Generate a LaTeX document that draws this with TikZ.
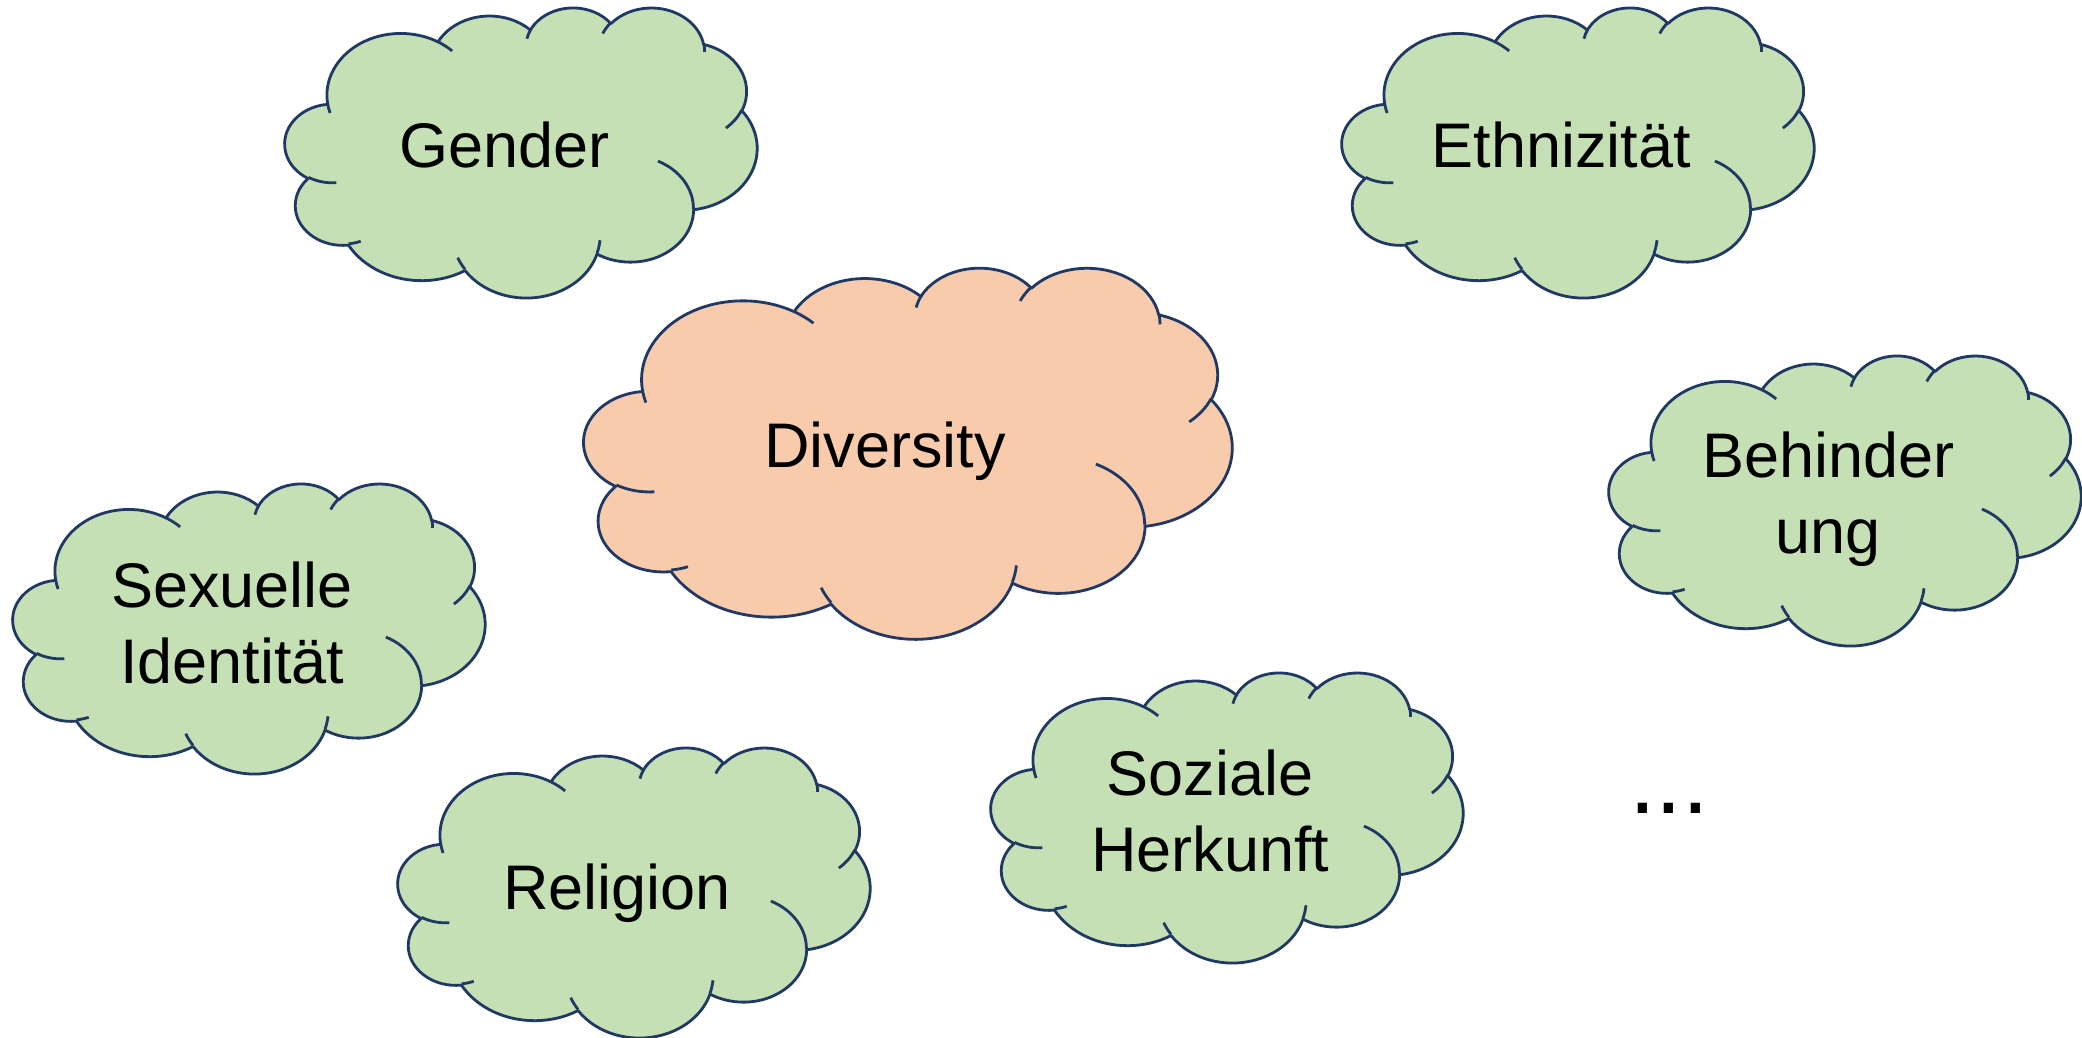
\documentclass[tikz,border=0pt]{standalone}
\usepackage{fontspec}
\setmainfont{Liberation Sans}

\definecolor{cloudgreen}{HTML}{C5E0B4}
\definecolor{cloudpeach}{HTML}{F8CBAD}
\definecolor{cloudedge}{HTML}{1F3864}

% One elliptic arc of the cloud outline, given in the 43.2 x 43.2 unit frame.
% #2,#3: radii; #4,#5: start and sweep as direction angles (y pointing down).
% The direction angles are turned into parametric ones and the frame is
% flipped so that y points up.
\newcommand\defcloudarc[5]{%
  \pgfmathsetmacro\arcS{atan2(#2*sin(#4),#3*cos(#4))}%
  \pgfmathsetmacro\arcE{atan2(#2*sin(#4+#5),#3*cos(#4+#5))}%
  \pgfmathsetmacro\arcD{mod((\arcE)-(\arcS)+720,360)}%
  \pgfmathsetmacro\arcS{0-(\arcS)}%
  \pgfmathsetmacro\arcD{0-(\arcD)}%
  \edef\arcdef{\noexpand\tikzset{#1/.style={start angle=\arcS,delta angle=\arcD,x radius=#2,y radius=#3}}}%
  \arcdef}

% outline bumps
\defcloudarc{cloud arc 1}{6.753}{9.190}{-190.4875}{123.7805}
\defcloudarc{cloud arc 2}{5.333}{7.267}{-144.1024}{89.9452}
\defcloudarc{cloud arc 3}{4.365}{5.945}{-145.8079}{99.7230}
\defcloudarc{cloud arc 4}{4.857}{6.595}{-130.9861}{117.2417}
\defcloudarc{cloud arc 5}{5.333}{7.273}{-78.7089}{109.0269}
\defcloudarc{cloud arc 6}{6.775}{9.220}{-46.2673}{130.2690}
\defcloudarc{cloud arc 7}{5.785}{7.867}{0.6250}{114.0333}
\defcloudarc{cloud arc 8}{6.752}{9.215}{22.4516}{115.1726}
\defcloudarc{cloud arc 9}{7.720}{10.543}{66.2426}{75.7110}
\defcloudarc{cloud arc 10}{4.360}{5.918}{-274.9421}{146.7356}
\defcloudarc{cloud arc 11}{4.345}{5.945}{-246.8285}{152.5189}
% short inner creases
\defcloudarc{cloud rim a}{4.345}{5.945}{86.7420}{26.4295}
\defcloudarc{cloud rim b}{4.360}{5.918}{73.6105}{11.4475}
\defcloudarc{cloud rim c}{6.752}{9.215}{137.6242}{14.0811}
\defcloudarc{cloud rim d}{6.752}{9.215}{6.4533}{15.9984}
\defcloudarc{cloud rim e}{5.785}{7.867}{-70.2924}{70.9174}
\defcloudarc{cloud rim f}{5.333}{7.273}{30.3180}{27.7515}
\defcloudarc{cloud rim g}{4.857}{6.595}{-13.7443}{14.8589}
\defcloudarc{cloud rim h}{4.857}{6.595}{-149.1815}{18.1954}
\defcloudarc{cloud rim i}{4.365}{5.945}{-163.4943}{17.6864}
\defcloudarc{cloud rim j}{6.753}{9.190}{-66.7070}{12.3194}
\defcloudarc{cloud rim k}{6.753}{9.190}{157.6544}{11.8582}

\tikzset{
  cloud edge/.style={draw=cloudedge,line width=2.8pt,line join=round},
  cloud label/.style={font=\fontsize{63}{76}\selectfont,align=center,anchor=base,inner sep=0pt},
}

% cloud whose box has its top-left corner at (#1,#2) (pixels, y down), size #3 x #4
\newcommand\drawcloud[5]{%
  \begin{scope}[shift={(#1,1037-#2-#4)},xscale=#3/43.2,yscale=#4/43.2]
    \filldraw[cloud edge,fill=#5] (3.900,28.830)
      arc[cloud arc 1] arc[cloud arc 2] arc[cloud arc 3] arc[cloud arc 4]
      arc[cloud arc 5] arc[cloud arc 6] arc[cloud arc 7] arc[cloud arc 8]
      arc[cloud arc 9] arc[cloud arc 10] arc[cloud arc 11] -- cycle;
    \draw[cloud edge]
      (4.693,17.023) arc[cloud rim a]
      (6.928,8.301) arc[cloud rim b]
      (16.478,4.110) arc[cloud rim c]
      (28.827,8.449) arc[cloud rim d]
      (34.129,20.246) arc[cloud rim e]
      (41.798,27.846) arc[cloud rim f]
      (38.324,37.774) arc[cloud rim g]
      (29.078,39.248) arc[cloud rim h]
      (22.141,38.480) arc[cloud rim i]
      (14.000,38.008) arc[cloud rim j]
      (4.127,27.411) arc[cloud rim k];
  \end{scope}}

\begin{document}
\begin{tikzpicture}[x=1pt,y=1pt]
  \useasboundingbox (0,0) rectangle (2082,1037);
  \fill[white] (0,0) rectangle (2082,1037);

  % clouds
  \drawcloud{285}{7}{472}{290}{cloudgreen}
  \drawcloud{1342}{7}{472}{290}{cloudgreen}
  \drawcloud{584}{267}{648}{371}{cloudpeach}
  \drawcloud{1609}{355}{472}{290}{cloudgreen}
  \drawcloud{13}{483}{472}{290}{cloudgreen}
  \drawcloud{398}{747}{472}{290}{cloudgreen}
  \drawcloud{991}{672}{472}{290}{cloudgreen}

  % labels (anchored on the baseline of their last line, pixels from the top)
  \node[cloud label] (gender) at (504.2,1037-168) {Gender};
  \node[cloud label] (ethnizitaet) at (1561.2,1037-168) {Ethnizität};
  \node[cloud label] (diversity) at (885,1037-468) {Diversity};
  \node[cloud label] (behinderung) at (1828.2,1037-554) {Behinder\\ung};
  \node[cloud label] (sexuelle) at (232.2,1037-683) {Sexuelle\\Identität};
  \node[cloud label] (religion) at (617.2,1037-909) {Religion};
  \node[cloud label] (soziale) at (1210.2,1037-871) {Soziale\\Herkunft};
  \node[font=\fontsize{96}{96}\selectfont,anchor=base west,inner sep=0pt] (more) at (1629,1037-813) {...};
\end{tikzpicture}
\end{document}
